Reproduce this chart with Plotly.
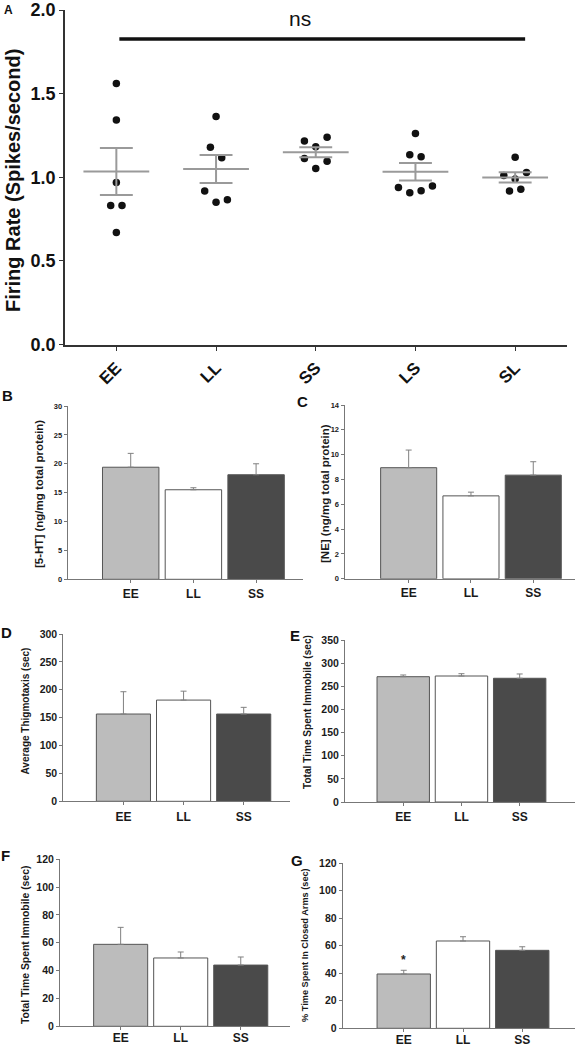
import numpy as np
import plotly.graph_objects as go

W, H = 575, 1048
FONT = "Liberation Sans, Arial, sans-serif"

# ---------------- Panel A data (firing rate, spikes/second) ----------------
groups_a = ["EE", "LL", "SS", "LS", "SL"]
rate_ee = [1.56, 1.343, 0.968, 0.831, 0.831, 0.67]
rate_ll = [1.363, 1.179, 1.116, 0.918, 0.851, 0.866]
rate_ss = [1.217, 1.183, 1.239, 1.112, 1.052, 1.096]
rate_ls = [1.261, 1.135, 1.122, 0.938, 0.908, 0.920, 0.948]
rate_sl = [1.120, 1.010, 0.990, 1.028, 0.918, 0.928]
rates_a = [rate_ee, rate_ll, rate_ss, rate_ls, rate_sl]

# ---------------- Panels B-G data (mean, SEM) ----------------
groups_b = ["EE", "LL", "SS"]
ht5_mean = [19.4, 15.5, 18.1]
ht5_sem = [2.4, 0.35, 1.9]
ne_mean = [8.95, 6.68, 8.35]
ne_sem = [1.42, 0.30, 1.08]
thig_mean = [156.5, 181.5, 156.5]
thig_sem = [40.0, 16.0, 12.0]
imm_mean = [270.7, 272.2, 267.3]
imm_sem = [3.7, 5.0, 9.3]
fst_mean = [58.9, 49.1, 44.0]
fst_sem = [12.2, 4.3, 5.8]
epm_mean = [39.5, 63.5, 56.7]
epm_sem = [2.7, 3.1, 2.6]

bar_colors = ["#bcbcbc", "#ffffff", "#4a4a4a"]


def dom_x(x0, x1):
    return [x0 / W, x1 / W]


def dom_y(ytop, ybot):
    return [1 - ybot / H, 1 - ytop / H]


fig = go.Figure()

# ---------------- Panel A ----------------
ROW_TOL = 0.08
SLOT = 0.1137
for gi, vals in enumerate(rates_a):
    # group into rows of similar values, spread each row around the category
    rows = []
    for v in vals:
        if rows and abs(v - rows[-1][0]) < ROW_TOL:
            rows[-1].append(v)
        else:
            rows.append([v])
    xs, ys = [], []
    for r in rows:
        n = len(r)
        for i, v in enumerate(r):
            xs.append(gi + (i - (n - 1) / 2) * SLOT)
            ys.append(v)
    fig.add_trace(go.Scatter(x=xs, y=ys, mode="markers", xaxis="x", yaxis="y",
                             marker=dict(color="#111111", size=7.5),
                             showlegend=False, hoverinfo="y"))
    arr = np.array(vals)
    m = arr.mean()
    s = arr.std(ddof=1) / np.sqrt(len(arr))
    lx, ly = [], []
    lx += [gi - 0.33, gi + 0.33, None]
    ly += [m, m, None]
    lx += [gi - 0.165, gi + 0.165, None, gi - 0.165, gi + 0.165, None, gi, gi]
    ly += [m + s, m + s, None, m - s, m - s, None, m - s, m + s]
    fig.add_trace(go.Scatter(x=lx, y=ly, mode="lines", xaxis="x", yaxis="y",
                             line=dict(color="#9a9a9a", width=2),
                             showlegend=False, hoverinfo="skip"))

fig.update_layout(
    xaxis=dict(domain=dom_x(65, 567), anchor="y", range=[-0.515, 4.52], automargin=False,
               tickmode="array", tickvals=list(range(5)),
               ticktext=[f"<b>{g}</b>" for g in groups_a],
               tickangle=-45, tickfont=dict(size=17, family=FONT, color="#111"),
               showline=True, linecolor="#333", linewidth=1.5, ticks="outside",
               ticklen=5, tickcolor="#333", showgrid=False, zeroline=False),
    yaxis=dict(domain=dom_y(10, 344.5), anchor="x", range=[0, 2.0], automargin=False,
               tickvals=[0, 0.5, 1.0, 1.5, 2.0],
               ticktext=["<b>0.0</b>", "<b>0.5</b>", "<b>1.0</b>", "<b>1.5</b>", "<b>2.0</b>"],
               tickfont=dict(size=18, family=FONT, color="#111"),
               showline=True, linecolor="#333", linewidth=1.5, ticks="outside",
               ticklen=4, tickcolor="#333", showgrid=False, zeroline=False),
)

shapes = [dict(type="line", xref="x", yref="y", x0=0.03, x1=4.1, y0=1.827, y1=1.827,
               line=dict(color="#111", width=3.5))]
annotations = [
    dict(text="ns", x=1.84, y=1.95, xref="x", yref="y", showarrow=False,
         xanchor="center", yanchor="middle",
         font=dict(size=21, family=FONT, color="#111")),
    dict(text="<b>Firing Rate (Spikes/second)</b>", x=13 / W, y=1 - 181 / H, xref="paper",
         yref="paper", xanchor="center", yanchor="middle",
         textangle=-90, showarrow=False, font=dict(size=20, family=FONT, color="#111")),
    dict(text="<b>A</b>", x=8 / W, y=1 - 10 / H, xref="paper", yref="paper", showarrow=False,
         xanchor="center", yanchor="middle",
         font=dict(size=12, family=FONT, color="#111")),
]

# ---------------- Panels B-G ----------------
panels = [
    # letter, means, sems, px box (x0, x1, ytop, ybot), xrange, yrange, dtick,
    # title, title (x, ycenter), title size, tick size, letter pos, label standoff
    ("B", ht5_mean, ht5_sem, (67.7, 303.3, 406, 579.3), [-1.005, 2.753], [0, 30], 5,
     "[5-HT] (ng/mg total protein)", (39, 494), 11.5, 7.5, (7, 395), 0),
    ("C", ne_mean, ne_sem, (344.5, 575, 405, 578.8), [-1.03, 2.67], [0, 14], 2,
     "[NE] (ng/mg total protein)", (325, 494), 11.5, 7.5, (302, 401), 0),
    ("D", thig_mean, thig_sem, (63.3, 290, 634, 801.3), [-1.0, 2.77], [0, 300], 50,
     "Average Thigmotaxis (sec)", (25, 711.5), 10, 10.5, (6, 632), 1),
    ("E", imm_mean, imm_sem, (345, 575, 640, 802), [-1.0, 2.95], [0, 350], 50,
     "Total Time Spent Immobile (sec)", (307, 712), 10.1, 10.5, (295, 635), 1),
    ("F", fst_mean, fst_sem, (60, 290, 859.3, 1026.3), [-1.01, 2.82], [0, 120], 20,
     "Total Time Spent Immobile (sec)", (25, 945), 10.4, 10.5, (5, 855), -3),
    ("G", epm_mean, epm_sem, (342.7, 575, 863.3, 1028.3), [-1.03, 2.89], [0, 120], 20,
     "% Time Spent In Closed Arms (sec)", (305, 945), 9.2, 10.5, (297, 860), -3),
]

for k, (letter, means, sems, box, xr, yr, dt, title, tpos, tsize, ticksize, lpos, stand) in enumerate(panels):
    n = k + 2
    xa, ya = f"x{n}", f"y{n}"
    x0, x1, yt, yb = box
    fig.add_trace(go.Bar(
        x=groups_b, y=means, xaxis=xa, yaxis=ya,
        marker=dict(color=bar_colors, line=dict(color="#555555", width=1)),
        error_y=dict(type="data", symmetric=False, array=sems, arrayminus=[0] * len(sems),
                     color="#808080", thickness=1, width=3),
        showlegend=False))
    yt_vals = list(range(yr[0], yr[1] + 1, dt))
    fig.layout[f"xaxis{n}"] = dict(
        domain=dom_x(x0, x1), anchor=ya, type="category", range=xr, automargin=False,
        tickmode="array", tickvals=groups_b, ticktext=[f"<b>{g}</b>" for g in groups_b],
        tickfont=dict(size=12, family=FONT, color="#1a1a1a"), ticklabelstandoff=stand,
        showline=True, linecolor="#777", linewidth=1, ticks="outside", ticklen=3,
        tickcolor="#777", showgrid=False, zeroline=False)
    fig.layout[f"yaxis{n}"] = dict(
        domain=dom_y(yt, yb), anchor=xa, range=yr, automargin=False,
        tickmode="array", tickvals=yt_vals, ticktext=[f"<b>{v}</b>" for v in yt_vals],
        tickfont=dict(size=ticksize, family=FONT, color="#1a1a1a"),
        showline=True, linecolor="#777", linewidth=1, ticks="outside", ticklen=3,
        tickcolor="#777", showgrid=False, zeroline=False)
    annotations.append(dict(text=f"<b>{title}</b>", x=tpos[0] / W, y=1 - tpos[1] / H,
                            xref="paper", yref="paper", xanchor="center", yanchor="middle",
                            textangle=-90, showarrow=False,
                            font=dict(size=tsize, family=FONT, color="#1a1a1a")))
    annotations.append(dict(text=f"<b>{letter}</b>", x=lpos[0] / W, y=1 - lpos[1] / H,
                            xref="paper", yref="paper", xanchor="center", yanchor="middle",
                            showarrow=False, font=dict(size=15, family=FONT, color="#111")))

# significance star on EE in panel G
annotations.append(dict(text="<b>*</b>", x="EE", y=epm_mean[0] + epm_sem[0], xref="x7",
                        yref="y7", xanchor="center", yanchor="bottom", yshift=1,
                        showarrow=False, font=dict(size=12, family=FONT, color="#222")))

fig.update_layout(
    width=W, height=H, margin=dict(l=0, r=0, t=0, b=0, autoexpand=False),
    paper_bgcolor="white", plot_bgcolor="white", bargap=0.1,
    shapes=shapes, annotations=annotations, showlegend=False,
    font=dict(family=FONT),
)

# remove the browser's default 8px body margin so the figure sits at the page origin
fig.write_html("out.html", config={"displayModeBar": False},
               post_script="document.body.style.margin='0px';")
